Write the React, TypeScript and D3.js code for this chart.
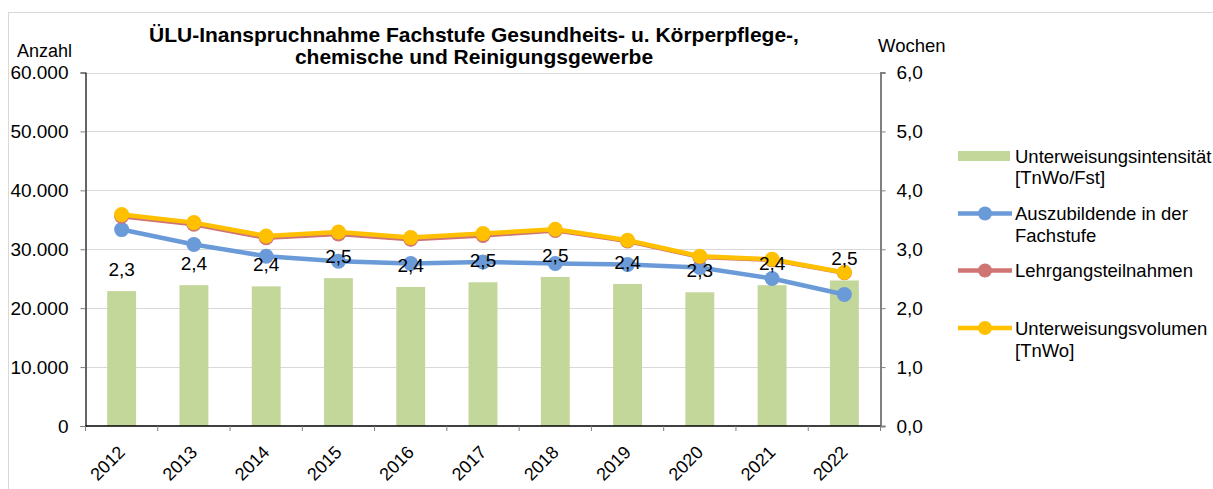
import React, { useRef, useEffect } from 'react';
import * as d3 from 'd3';

const years = ['2012', '2013', '2014', '2015', '2016', '2017', '2018', '2019', '2020', '2021', '2022'];
// Unterweisungsintensität [TnWo/Fst] (right axis)
const intensity = [2.29, 2.39, 2.37, 2.51, 2.36, 2.44, 2.53, 2.41, 2.27, 2.39, 2.47];
const intensityLabels = ['2,3', '2,4', '2,4', '2,5', '2,4', '2,5', '2,5', '2,4', '2,3', '2,4', '2,5'];
// left axis series
const azubis = [33340, 30800, 28810, 27970, 27580, 27850, 27580, 27400, 26900, 25030, 22320];
const teilnahmen = [35600, 34250, 31950, 32600, 31700, 32350, 33200, 31400, 28700, 28200, 26000];
const volumen = [35880, 34520, 32250, 32930, 31980, 32660, 33390, 31530, 28810, 28300, 26050];
const leftTicks = [0, 10000, 20000, 30000, 40000, 50000, 60000];
const rightTicks = [0, 1, 2, 3, 4, 5, 6];

const FONT = "Arial, 'Liberation Sans', sans-serif";
const C_BAR = '#c4d79b';
const C_BLUE = '#6a9bd8';
const C_RED = '#d07474';
const C_ORANGE = '#ffc000';

const ComboChart = () => {
    const svgRef = useRef<SVGSVGElement>(null);

    useEffect(() => {
        const svg = d3.select(svgRef.current);
        svg.selectAll('*').remove();

        const left = 85.5, right = 880.5, top = 72.5, bottom = 426;

        // outer frame
        svg.append('rect')
            .attr('x', 8.5).attr('y', 12.5)
            .attr('width', 1230).attr('height', 500)
            .attr('fill', 'white').attr('stroke', '#d9d9d9');

        const x = d3.scaleBand().domain(years).range([left, right]).paddingInner(0).paddingOuter(0);
        const yL = d3.scaleLinear().domain([0, 60000]).range([bottom, top]);
        const yR = d3.scaleLinear().domain([0, 6]).range([bottom, top]);
        const cx = (d: string) => (x(d) as number) + x.bandwidth() / 2;

        // gridlines
        svg.append('g').selectAll('line')
            .data(leftTicks.filter(t => t > 0))
            .join('line')
            .attr('x1', left).attr('x2', right)
            .attr('y1', d => Math.round(yL(d)) + 0.5).attr('y2', d => Math.round(yL(d)) + 0.5)
            .attr('stroke', '#d9d9d9').attr('stroke-width', 1);

        // bars
        const barW = x.bandwidth() / 2.5;
        svg.append('g').selectAll('rect')
            .data(years)
            .join('rect')
            .attr('x', d => cx(d) - barW / 2)
            .attr('y', (d, i) => yR(intensity[i]))
            .attr('width', barW)
            .attr('height', (d, i) => bottom - yR(intensity[i]))
            .attr('fill', C_BAR);

        // left axis
        const fmtL = (v: number) => v === 0 ? '0' : d3.format(',')(v).replace(/,/g, '.');
        const gL = svg.append('g')
            .attr('transform', `translate(${left},0)`)
            .call(d3.axisLeft(yL).tickValues(leftTicks).tickSize(5).tickPadding(12).tickFormat(d => fmtL(d as number)));
        gL.select('.domain').attr('stroke', '#000').attr('stroke-width', 1.2);
        gL.selectAll('.tick line').attr('stroke', '#808080');
        gL.selectAll('.tick text').attr('font-size', 19).attr('font-family', FONT).attr('fill', '#000');

        // right axis
        const gR = svg.append('g')
            .attr('transform', `translate(${right},0)`)
            .call(d3.axisRight(yR).tickValues(rightTicks).tickSize(5).tickPadding(11).tickFormat(d => d3.format('.1f')(d as number).replace('.', ',')));
        gR.select('.domain').attr('stroke', '#808080').attr('stroke-width', 2);
        gR.selectAll('.tick line').attr('stroke', '#808080');
        gR.selectAll('.tick text').attr('font-size', 19).attr('font-family', FONT).attr('fill', '#000');

        // x axis
        const gX = svg.append('g').attr('transform', `translate(0,${bottom})`);
        gX.append('line').attr('x1', left).attr('x2', right).attr('y1', 0).attr('y2', 0)
            .attr('stroke', '#000').attr('stroke-width', 1.5);
        gX.selectAll('line.tk')
            .data([...years.map(d => x(d) as number), right])
            .join('line')
            .attr('class', 'tk')
            .attr('x1', d => d).attr('x2', d => d).attr('y1', 0).attr('y2', 5)
            .attr('stroke', '#808080');
        gX.selectAll('text')
            .data(years)
            .join('text')
            .attr('transform', d => `translate(${cx(d)},${23}) rotate(-45)`)
            .attr('text-anchor', 'end')
            .attr('dy', '0.35em')
            .attr('font-size', 18).attr('font-family', FONT)
            .text(d => d);

        // lines
        const drawLine = (vals: number[], color: string) => {
            const line = d3.line<number>().x((d, i) => cx(years[i])).y(d => yL(d));
            svg.append('path').datum(vals)
                .attr('fill', 'none').attr('stroke', color).attr('stroke-width', 4.5)
                .attr('stroke-linejoin', 'round')
                .attr('d', line);
            svg.append('g').selectAll('circle').data(vals).join('circle')
                .attr('cx', (d, i) => cx(years[i])).attr('cy', d => yL(d))
                .attr('r', 7.5).attr('fill', color);
        };
        drawLine(azubis, C_BLUE);
        drawLine(teilnahmen, C_RED);
        drawLine(volumen, C_ORANGE);

        // bar labels
        svg.append('g').selectAll('text').data(years).join('text')
            .attr('x', d => cx(d))
            .attr('y', (d, i) => yR(intensity[i]) - 15)
            .attr('text-anchor', 'middle')
            .attr('font-size', 19).attr('font-family', FONT)
            .text((d, i) => intensityLabels[i]);

        // title
        const title = svg.append('text')
            .attr('x', 474).attr('text-anchor', 'middle')
            .attr('font-size', 21).attr('font-weight', 'bold').attr('font-family', FONT);
        title.append('tspan').attr('x', 474).attr('y', 42).text('ÜLU-Inanspruchnahme Fachstufe Gesundheits- u. Körperpflege-,');
        title.append('tspan').attr('x', 474).attr('y', 64).text('chemische und Reinigungsgewerbe');

        // axis titles
        svg.append('text').attr('x', 17).attr('y', 57)
            .attr('font-size', 18).attr('font-family', FONT).text('Anzahl');
        svg.append('text').attr('x', 878).attr('y', 52)
            .attr('font-size', 18.5).attr('font-family', FONT).text('Wochen');

        // legend
        const lx = 958, tx = 1015;
        const lg = svg.append('g').attr('font-size', 18.5).attr('font-family', FONT);
        lg.append('rect').attr('x', lx).attr('y', 151).attr('width', 52).attr('height', 10).attr('fill', C_BAR);
        const legendLines = [
            { y: 213.5, color: C_BLUE },
            { y: 270.5, color: C_RED },
            { y: 328, color: C_ORANGE },
        ];
        legendLines.forEach(l => {
            lg.append('line').attr('x1', lx).attr('x2', lx + 54).attr('y1', l.y).attr('y2', l.y)
                .attr('stroke', l.color).attr('stroke-width', 4.5);
            lg.append('circle').attr('cx', lx + 27).attr('cy', l.y).attr('r', 7).attr('fill', l.color);
        });
        const legendText = [
            { y: 163, t: 'Unterweisungsintensität' },
            { y: 184, t: '[TnWo/Fst]' },
            { y: 220, t: 'Auszubildende in der' },
            { y: 242, t: 'Fachstufe' },
            { y: 277, t: 'Lehrgangsteilnahmen' },
            { y: 335, t: 'Unterweisungsvolumen' },
            { y: 357, t: '[TnWo]' },
        ];
        legendText.forEach(l => lg.append('text').attr('x', tx).attr('y', l.y).text(l.t));
    }, []);

    return <svg ref={svgRef} width={1213} height={489} style={{ position: 'absolute', left: 0, top: 0 }}></svg>;
};

export default function App() {
    return <ComboChart />;
}
